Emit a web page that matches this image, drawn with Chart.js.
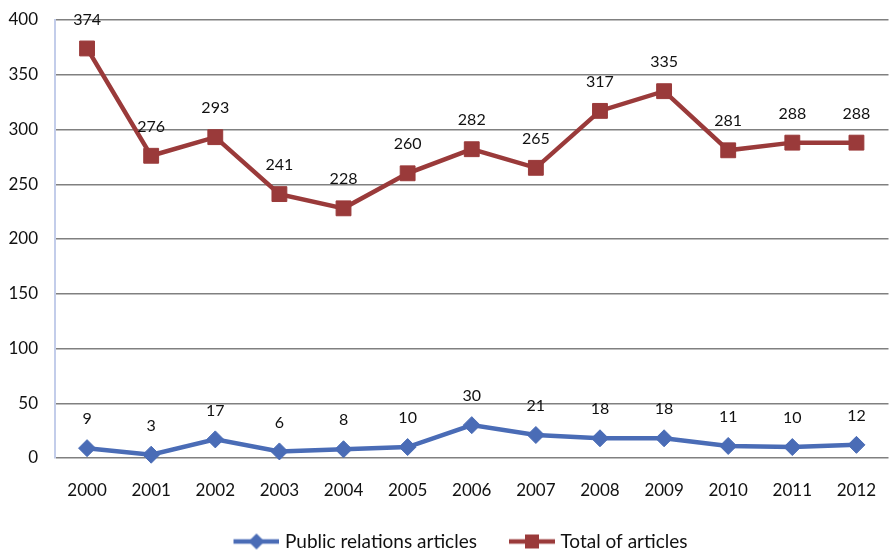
<!DOCTYPE html>
<html>
<head>
<meta charset="utf-8">
<script src="https://cdn.jsdelivr.net/npm/chart.js@4.4.0/dist/chart.umd.min.js"></script>
<style>
  html, body { margin: 0; padding: 0; background: #fff; overflow: hidden; }
  #wrap { width: 900px; height: 561px; }
</style>
</head>
<body>
<div id="wrap"><canvas id="chart" width="900" height="561"></canvas></div>
<script>
const years = ['2000', '2001', '2002', '2003', '2004', '2005', '2006', '2007', '2008', '2009', '2010', '2011', '2012'];
const prArticles = [9, 3, 17, 6, 8, 10, 30, 21, 18, 18, 11, 10, 12];
const totalArticles = [374, 276, 293, 241, 228, 260, 282, 265, 317, 335, 281, 288, 288];
const yMin = 0, yMax = 400, yStep = 50;

const BLUE = '#4a6cb6';
const RED = '#9a3a3a';
const FONT = 'Lato';
const TEXT = '#111';

// legend icon: short line with the marker on it, like the spreadsheet legend
function legendIcon(color, shape) {
    const c = document.createElement('canvas');
    c.width = 72; c.height = 20;
    const g = c.getContext('2d');
    g.strokeStyle = color;
    g.lineWidth = 4.5;
    g.beginPath();
    g.moveTo(26, 10);
    g.lineTo(72, 10);
    g.stroke();
    g.fillStyle = color;
    if (shape === 'rect') {
        g.fillRect(42, 3, 14, 14);
    } else {
        g.beginPath();
        g.moveTo(49, 2); g.lineTo(57, 10); g.lineTo(49, 18); g.lineTo(41, 10);
        g.closePath();
        g.fill();
    }
    return c;
}
const icons = [legendIcon(BLUE, 'rectRot'), legendIcon(RED, 'rect')];

// value labels above each point
const valueLabels = {
    id: 'valueLabels',
    afterDatasetsDraw(chart) {
        const ctx = chart.ctx;
        ctx.save();
        ctx.font = '16px ' + FONT;
        ctx.fillStyle = TEXT;
        ctx.textAlign = 'center';
        ctx.textBaseline = 'middle';
        chart.data.datasets.forEach((ds, i) => {
            chart.getDatasetMeta(i).data.forEach((pt, j) => {
                ctx.fillText(ds.data[j], pt.x, pt.y - 29);
            });
        });
        ctx.restore();
    }
};

new Chart(document.getElementById('chart'), {
    type: 'line',
    data: {
        labels: years,
        datasets: [{
            label: 'Public relations articles',
            data: prArticles,
            borderColor: BLUE,
            backgroundColor: BLUE,
            borderWidth: 4.5,
            pointStyle: 'rectRot',
            pointRadius: 8.5,
            pointBorderWidth: 1,
            tension: 0,
            clip: false
        }, {
            label: 'Total of articles',
            data: totalArticles,
            borderColor: RED,
            backgroundColor: RED,
            borderWidth: 4.5,
            pointStyle: 'rect',
            pointRadius: 10.5,
            pointBorderWidth: 1,
            tension: 0,
            clip: false
        }]
    },
    options: {
        responsive: false,
        animation: false,
        devicePixelRatio: 1,
        layout: { padding: { top: 20, right: 1, left: 0, bottom: 0 } },
        scales: {
            x: {
                offset: true,
                grid: { display: false, drawTicks: false },
                border: { display: false },
                ticks: { color: TEXT, font: { family: FONT, size: 17 }, padding: 22, maxRotation: 0 },
                afterFit(scale) { scale.height = 64; }
            },
            y: {
                min: yMin,
                max: yMax,
                grid: { color: '#808080', lineWidth: 1.5, drawTicks: false },
                border: { display: true, color: '#c3cdea', width: 2 },
                ticks: { stepSize: yStep, color: TEXT, font: { family: FONT, size: 17 }, padding: 17 },
                afterFit(scale) {
                    scale.width = 55;
                    scale.paddingTop = 0;
                    scale.paddingBottom = 0;
                }
            }
        },
        plugins: {
            tooltip: { enabled: false },
            legend: {
                position: 'bottom',
                labels: {
                    usePointStyle: true,
                    pointStyleWidth: 64,
                    padding: 10,
                    color: TEXT,
                    font: { family: FONT, size: 19 },
                    generateLabels(chart) {
                        const items = Chart.defaults.plugins.legend.labels.generateLabels(chart);
                        items.forEach((it, i) => { it.pointStyle = icons[i]; });
                        return items;
                    }
                }
            }
        }
    },
    plugins: [valueLabels]
});
</script>
</body>
</html>
